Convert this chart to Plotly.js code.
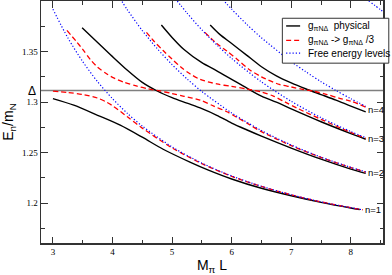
<!DOCTYPE html>
<html>
<head>
<meta charset="utf-8">
<script src="https://cdn.plot.ly/plotly-3.0.1.min.js"></script>
<style>
html,body{margin:0;padding:0;background:#fff;overflow:hidden}
#chart{width:392px;height:275px}
</style>
</head>
<body>
<div id="chart"></div>
<script>
// ---------------- data ----------------
const DELTA = 1.3115;                       // Δ / m_N
const seriesNames = ["g<sub>πNΔ</sub>&nbsp; physical",
                     "g<sub>πNΔ</sub> -&gt; g<sub>πNΔ</sub> /3",
                     "Free energy levels"];
const levelLabels = ["n=1", "n=2", "n=3", "n=4"];

// physical coupling (black)
const phys1x = [3.0, 3.35, 3.75, 4.13, 4.5, 4.85, 5.3, 5.6, 6.0, 6.5, 7.0, 7.5, 8.0, 8.15];
const phys1y = [1.3035, 1.2970, 1.2870, 1.2772, 1.2653, 1.2534, 1.2407, 1.2330, 1.2240, 1.2148, 1.2074, 1.2009, 1.1953, 1.1938];
const phys2x = [3.49, 3.75, 4.0, 4.25, 4.5, 4.75, 5.0, 5.25, 5.5, 5.75, 6.0, 6.25, 6.5, 7.0, 7.5, 8.0, 8.25];
const phys2y = [1.3736, 1.3590, 1.3450, 1.3315, 1.3195, 1.3110, 1.3045, 1.2990, 1.2935, 1.2870, 1.2793, 1.2727, 1.2664, 1.2546, 1.2436, 1.2338, 1.2295];
const phys3x = [4.82, 5.0, 5.2, 5.5, 5.75, 6.0, 6.25, 6.5, 6.75, 7.0, 7.5, 8.0, 8.25];
const phys3y = [1.3763, 1.3640, 1.3520, 1.3390, 1.3310, 1.3225, 1.3140, 1.3060, 1.2999, 1.2933, 1.2806, 1.2689, 1.2633];
const phys4x = [5.64, 5.8, 6.0, 6.25, 6.5, 6.75, 7.0, 7.25, 7.5, 7.75, 8.0, 8.25];
const phys4y = [1.3763, 1.3670, 1.3580, 1.3465, 1.3350, 1.3260, 1.3190, 1.3130, 1.3075, 1.3020, 1.2960, 1.2903];

// reduced coupling g/3 (red)
const red1x = [3.0, 3.25, 3.5, 3.75, 3.9, 4.0, 4.25, 4.5, 5.0, 5.5, 6.0, 6.5, 7.0, 7.5, 8.0, 8.2];
const red1y = [1.3108, 1.3095, 1.3075, 1.3040, 1.3000, 1.2965, 1.2855, 1.2743, 1.2548, 1.2392, 1.2266, 1.2166, 1.2083, 1.2014, 1.1956, 1.1935];
const red2x = [3.235, 3.4, 3.5, 3.63, 3.75, 3.9, 4.0, 4.2, 4.4, 4.6, 4.8, 5.0, 5.2, 5.47, 5.7, 5.92, 6.1, 6.3, 6.5, 7.0, 7.5, 8.0, 8.25];
const red2y = [1.3709, 1.3595, 1.3522, 1.3420, 1.3345, 1.3280, 1.3245, 1.3195, 1.3160, 1.3132, 1.3110, 1.3085, 1.3058, 1.3020, 1.2960, 1.2905, 1.2845, 1.2777, 1.2708, 1.2570, 1.2453, 1.2353, 1.2308];
const red3x = [4.57, 4.7, 4.85, 5.0, 5.15, 5.3, 5.47, 5.75, 6.0, 6.25, 6.5, 6.7, 6.9, 7.1, 7.5, 8.0, 8.25];
const red3y = [1.3690, 1.3600, 1.3510, 1.3425, 1.3345, 1.3280, 1.3225, 1.3180, 1.3155, 1.3130, 1.3100, 1.3060, 1.3000, 1.2940, 1.2830, 1.2701, 1.2642];
const red4x = [5.55, 5.75, 5.92, 6.1, 6.3, 6.5, 6.8, 7.0, 7.2, 7.4, 7.6, 7.8, 8.0, 8.25];
const red4y = [1.3690, 1.3580, 1.3505, 1.3420, 1.3320, 1.3250, 1.3175, 1.3150, 1.3125, 1.3105, 1.3075, 1.3040, 1.3010, 1.2950];

// free energy levels (blue)
const free1x = [3.0, 3.25, 3.5, 3.75, 4.0, 4.25, 4.5, 5.0, 5.5, 6.0, 6.5, 7.0, 7.5, 8.0, 8.2];
const free1y = [1.3919, 1.3636, 1.3401, 1.3202, 1.3034, 1.2889, 1.2763, 1.2557, 1.2397, 1.2270, 1.2168, 1.2084, 1.2014, 1.1956, 1.1935];
const free2x = [4.1, 4.25, 4.5, 4.75, 5.0, 5.25, 5.5, 6.0, 6.5, 7.0, 7.5, 8.0, 8.25];
const free2y = [1.4050, 1.3913, 1.3708, 1.3529, 1.3371, 1.3230, 1.3105, 1.2893, 1.2719, 1.2576, 1.2456, 1.2355, 1.2310];
const free3x = [5.05, 5.25, 5.5, 5.75, 6.0, 6.5, 7.0, 7.5, 8.0, 8.25];
const free3y = [1.4028, 1.3881, 1.3715, 1.3566, 1.3432, 1.3200, 1.3008, 1.2846, 1.2709, 1.2648];
const free4x = [5.85, 6.0, 6.25, 6.5, 7.0, 7.25, 7.5, 7.75, 8.0, 8.25];
const free4y = [1.4015, 1.3919, 1.3771, 1.3636, 1.3401, 1.3298, 1.3202, 1.3115, 1.3034, 1.2958];
const free8x = [8.3, 8.5, 8.6];
const free8y = [1.4003, 1.3913, 1.3869];

const xTickVals = [3, 4, 5, 6, 7, 8];
const yTickVals = [1.2, 1.25, 1.3, 1.35];

// ---------------- styles / geometry ----------------
const W = 392, H = 275, ML = 41, MR = 8.5, MT = 1, MB = 31.5;
const PW = W - ML - MR, PH = H - MT - MB;
const pxX = p => (p - ML) / PW;
const pxY = p => 1 - (p - MT) / PH;

const blackLine = {color: '#000000', width: 1.4};
const redLine = {color: '#ff0000', width: 1.3, dash: '5px,3px'};
const blueLine = {color: '#0000ff', width: 1.2, dash: '1.2px,2px'};

const phys = [[phys1x, phys1y], [phys2x, phys2y], [phys3x, phys3y], [phys4x, phys4y]];
const red = [[red1x, red1y], [red2x, red2y], [red3x, red3y], [red4x, red4y]];
const free = [[free1x, free1y], [free2x, free2y], [free3x, free3y], [free4x, free4y], [free8x, free8y]];

const traces = [];
const mk = (xy, line, name) => ({x: xy[0], y: xy[1], type: 'scatter', mode: 'lines',
  line: Object.assign({shape: 'spline', smoothing: 0.8}, line), name: name, showlegend: false,
  hoverinfo: 'skip'});
phys.forEach(s => traces.push(mk(s, blackLine, seriesNames[0])));
red.forEach(s => traces.push(mk(s, redLine, seriesNames[1])));
free.forEach(s => traces.push(mk(s, blueLine, seriesNames[2])));

const annFont = {family: 'Liberation Sans, Arial, sans-serif', size: 9.5, color: '#000'};
const annotations = [];
levelLabels.forEach((t, i) => {
  const b = phys[i], f = free[i];
  const xe = Math.max(b[0][b[0].length - 1], f[0][f[0].length - 1]);
  const ye = (b[1][b[1].length - 1] + f[1][f[1].length - 1]) / 2;
  annotations.push({x: xe, y: ye, xref: 'x', yref: 'y', text: t, showarrow: false,
    xanchor: 'left', yanchor: 'middle', xshift: 1.5, font: annFont, borderpad: 0});
});
annotations.push({x: pxX(31.5), y: DELTA, xref: 'paper', yref: 'y', text: 'Δ', showarrow: false,
  xanchor: 'center', yanchor: 'middle', font: {family: 'Liberation Sans, Arial, sans-serif', size: 12, color: '#000'}});

// legend (box, samples, texts)
const legRows = [26, 40.5, 53.3];
const legLines = [blackLine, redLine, blueLine];
const shapes = [
  {type: 'line', xref: 'paper', yref: 'y', x0: 0, x1: 1, y0: DELTA, y1: DELTA,
   line: {color: '#7f7f7f', width: 1.5}, layer: 'below'},
  {type: 'rect', xref: 'paper', yref: 'paper', x0: pxX(282.7), x1: pxX(389.3), y0: pxY(63.3), y1: pxY(18.3),
   fillcolor: '#ffffff', line: {color: '#333333', width: 1}, layer: 'above'}
];
legRows.forEach((r, i) => {
  shapes.push({type: 'line', xref: 'paper', yref: 'paper', x0: pxX(286.5), x1: pxX(300.5), y0: pxY(r), y1: pxY(r),
    line: Object.assign({}, legLines[i], {width: legLines[i].width}), layer: 'above'});
  annotations.push({x: pxX(307.5), y: pxY(r), xref: 'paper', yref: 'paper', text: seriesNames[i],
    showarrow: false, xanchor: 'left', yanchor: 'middle', borderpad: 0,
    font: {family: 'Liberation Sans, Arial, sans-serif', size: 10, color: '#000'}});
});

const axisCommon = {
  showline: true, linecolor: '#333333', linewidth: 1.5, mirror: 'ticks',
  ticks: 'inside', ticklen: 6.5, tickwidth: 1, tickcolor: '#333333',
  showgrid: false, zeroline: false,
  tickfont: {family: 'Liberation Serif, Times New Roman, serif', size: 9, color: '#000'},
};

const layout = {
  width: W, height: H,
  margin: {l: ML, r: MR, t: MT, b: MB, pad: 0},
  paper_bgcolor: '#ffffff', plot_bgcolor: '#ffffff',
  showlegend: false,
  xaxis: Object.assign({}, axisCommon, {
    range: [2.8, 8.54], tickvals: xTickVals, ticktext: xTickVals.map(String),
    minor: {ticks: 'inside', ticklen: 3.5, dtick: 0.5, tick0: 2.5, tickcolor: '#333333'},
    title: {text: 'M<sub>π</sub> L', font: {family: 'Liberation Sans, Arial, sans-serif', size: 14, color: '#000'}, standoff: 4}
  }),
  yaxis: Object.assign({}, axisCommon, {
    range: [1.1607, 1.40], tickvals: yTickVals, ticktext: yTickVals.map(String),
    minor: {ticks: 'inside', ticklen: 3.5, dtick: 0.05, tick0: 1.175, tickcolor: '#333333'},
    title: {text: 'E<sub>n</sub>/m<sub>N</sub>', font: {family: 'Liberation Sans, Arial, sans-serif', size: 14, color: '#000'}, standoff: 6}
  }),
  shapes: shapes,
  annotations: annotations
};

Plotly.newPlot('chart', traces, layout, {staticPlot: true, displayModeBar: false});
</script>
</body>
</html>
